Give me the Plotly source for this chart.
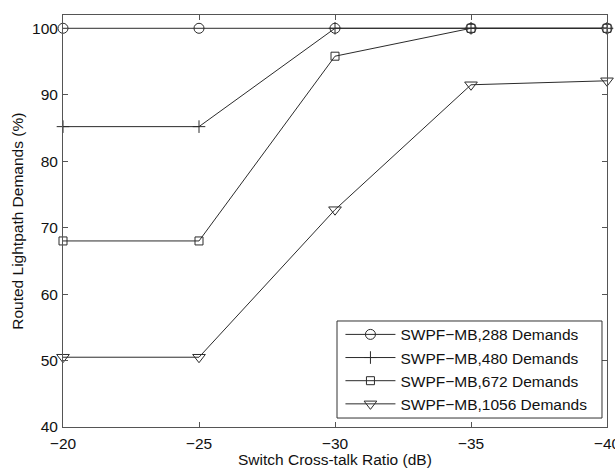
import plotly.graph_objects as go

# Switch cross-talk ratio (dB)
xtalk_db = [-20, -25, -30, -35, -40]

# Routed lightpath demands (%) per demand set
routed_288 = [100, 100, 100, 100, 100]
routed_480 = [85.2, 85.2, 100, 100, 100]
routed_672 = [68.0, 68.0, 95.8, 100, 100]
routed_1056 = [50.5, 50.5, 72.7, 91.5, 92.1]

series_names = [
    "SWPF\u2212MB,288 Demands",
    "SWPF\u2212MB,480 Demands",
    "SWPF\u2212MB,672 Demands",
    "SWPF\u2212MB,1056 Demands",
]
x_ticks = [-20, -25, -30, -35, -40]
y_ticks = [40, 50, 60, 70, 80, 90, 100]
x_title = "Switch Cross-talk Ratio (dB)"
y_title = "Routed Lightpath Demands (%)"

FONT = "Liberation Sans, Arial, Helvetica, sans-serif"
INK = "#2b2b2b"
AXIS = "#555555"
TEXT = "#111111"

styles = [
    ("circle-open", 10),
    ("cross-thin-open", 9),
    ("square-open", 8),
    ("triangle-down-open", 11),
]

fig = go.Figure()
for name, ys, (sym, size) in zip(
    series_names, [routed_288, routed_480, routed_672, routed_1056], styles
):
    fig.add_trace(
        go.Scatter(
            x=xtalk_db,
            y=ys,
            name=name,
            mode="lines+markers",
            line=dict(color=INK, width=1),
            marker=dict(
                symbol=sym,
                size=size,
                color=INK,
                line=dict(color=INK, width=1),
            ),
            cliponaxis=False,
        )
    )

axis_common = dict(
    showline=True,
    linecolor=AXIS,
    linewidth=1,
    mirror="ticks",
    ticks="inside",
    ticklen=5,
    tickcolor=AXIS,
    tickwidth=1,
    showgrid=False,
    zeroline=False,
    automargin=False,
    ticklabeloverflow="allow",
    tickfont=dict(family=FONT, size=15.5, color=TEXT),
)

fig.update_xaxes(range=[-20, -40], tickvals=x_ticks, ticklabelstandoff=2, **axis_common)
fig.update_yaxes(range=[40, 102], tickvals=y_ticks, ticklabelstandoff=1, **axis_common)

# Axis titles placed as paper-anchored text
fig.add_annotation(
    text=x_title, xref="paper", yref="paper", x=0.5, y=-0.078,
    xanchor="center", yanchor="middle", showarrow=False,
    font=dict(family=FONT, size=15.5, color=TEXT),
)
fig.add_annotation(
    text=y_title, xref="paper", yref="paper", x=-0.085, y=0.5,
    xanchor="center", yanchor="middle", textangle=-90, showarrow=False,
    font=dict(family=FONT, size=15.5, color=TEXT),
)

# Legend frame drawn as a box so its edges sit inside the axes
fig.add_shape(
    type="rect", xref="paper", yref="paper",
    x0=0.5037, x1=0.9908, y0=0.0218, y1=0.2573,
    line=dict(color="#333333", width=1), fillcolor="white", layer="above",
)

fig.update_layout(
    width=615,
    height=468,
    margin=dict(l=63, r=8, t=15, b=41),
    paper_bgcolor="white",
    plot_bgcolor="white",
    font=dict(family=FONT, size=15, color=TEXT),
    legend=dict(
        x=0.51,
        y=0.265,
        xanchor="left",
        yanchor="top",
        bgcolor="rgba(0,0,0,0)",
        borderwidth=0,
        font=dict(family=FONT, size=15.5, color=TEXT),
        itemwidth=50,
        tracegroupgap=0,
    ),
)

fig.write_html("out.html")
